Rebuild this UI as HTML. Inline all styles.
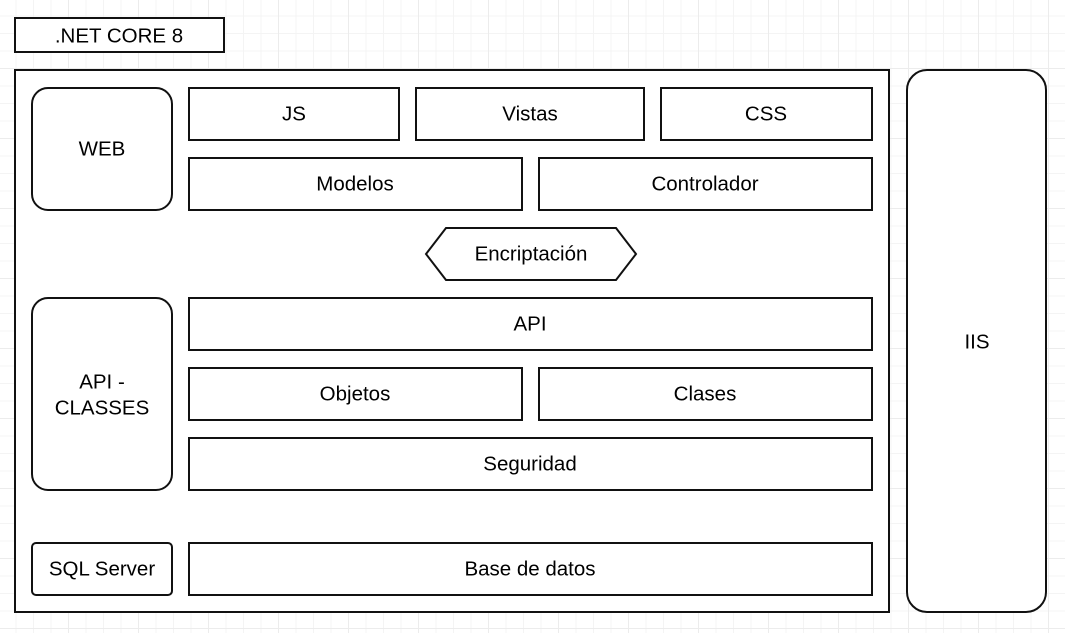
<!DOCTYPE html>
<html><head><meta charset="utf-8"><style>
html,body{margin:0;padding:0;background:#fff}
body{width:1065px;height:633px;overflow:hidden;
background-image:
linear-gradient(#ececec 1px,transparent 1px),
linear-gradient(90deg,#ececec 1px,transparent 1px),
linear-gradient(#f4f4f4 1px,transparent 1px),
linear-gradient(90deg,#f4f4f4 1px,transparent 1px);
background-size:70px 70px,70px 70px,17.5px 17.5px,17.5px 17.5px;
background-position:-2px -2px,-2px -2px,-2px -2px,-2px -2px;}
svg{position:absolute;left:0;top:0}
text{font-family:"Liberation Sans",Arial,sans-serif;font-size:20.5px;fill:#000;text-anchor:middle;dominant-baseline:central}
rect,polygon{fill:#fff;stroke:#111;stroke-width:2}
</style></head><body>
<svg width="1065" height="633">
<rect x="15" y="18" width="209" height="34"/><text x="119" y="36">.NET CORE 8</text>
<rect x="15" y="70" width="874" height="542"/>
<rect x="907" y="70" width="139" height="542" rx="20"/><text x="977" y="342">IIS</text>
<rect x="32" y="88" width="140" height="122" rx="16"/><text x="102" y="149">WEB</text>
<rect x="189" y="88" width="210" height="52"/><text x="294" y="114">JS</text>
<rect x="416" y="88" width="228" height="52"/><text x="530" y="114">Vistas</text>
<rect x="661" y="88" width="211" height="52"/><text x="766" y="114">CSS</text>
<rect x="189" y="158" width="333" height="52"/><text x="355" y="184">Modelos</text>
<rect x="539" y="158" width="333" height="52"/><text x="705" y="184">Controlador</text>
<polygon points="446,228 616,228 636,254 616,280 446,280 426,254"/><text x="531" y="254">Encriptación</text>
<rect x="32" y="298" width="140" height="192" rx="16"/><text x="102" y="382">API -</text><text x="102" y="408">CLASSES</text>
<rect x="189" y="298" width="683" height="52"/><text x="530" y="324">API</text>
<rect x="189" y="368" width="333" height="52"/><text x="355" y="394">Objetos</text>
<rect x="539" y="368" width="333" height="52"/><text x="705" y="394">Clases</text>
<rect x="189" y="438" width="683" height="52"/><text x="530" y="464">Seguridad</text>
<rect x="32" y="543" width="140" height="52" rx="4"/><text x="102" y="569">SQL Server</text>
<rect x="189" y="543" width="683" height="52"/><text x="530" y="569">Base de datos</text>
</svg>
</body></html>
